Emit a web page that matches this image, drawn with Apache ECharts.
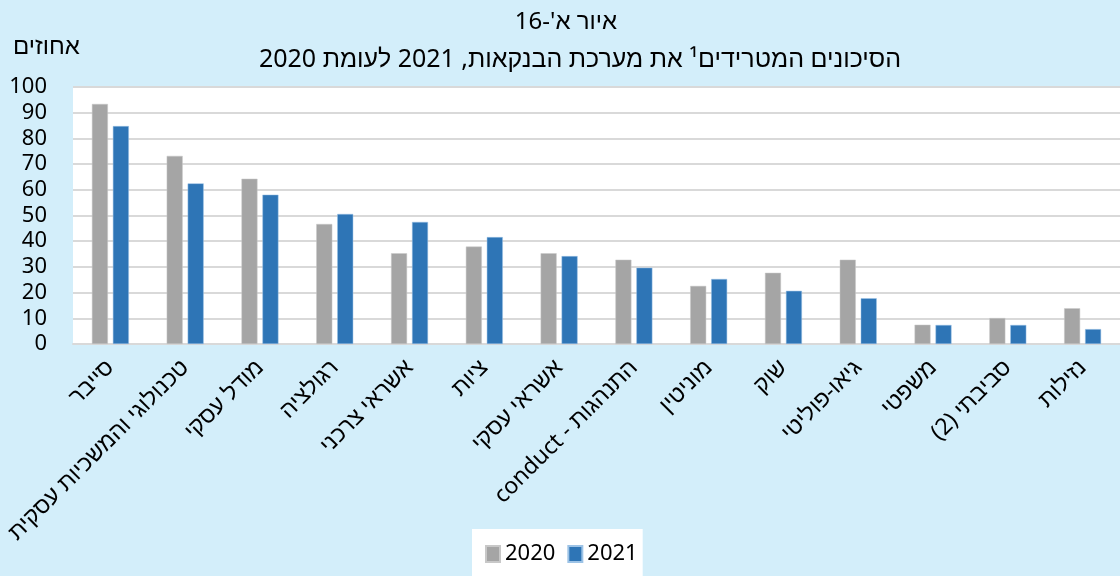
<!DOCTYPE html>
<html>
<head>
<meta charset="utf-8">
<script src="https://cdn.jsdelivr.net/npm/echarts@6/dist/echarts.min.js"></script>
<style>
  html, body { margin: 0; padding: 0; background: #d3eefa; }
  #chart { width: 1120px; height: 576px; }
</style>
</head>
<body>
<div id="chart"></div>
<script>
// categories, left to right as drawn
const categories = [
  "סייבר",
  "טכנולוגי והמשכיות עסקית",
  "מודל עסקי",
  "רגולציה",
  "אשראי צרכני",
  "ציות",
  "אשראי עסקי",
  "conduct - התנהגות",
  "מוניטין",
  "שוק",
  "גיאו-פוליטי",
  "משפטי",
  "\u200Fסביבתי (2)\u200F",
  "נזילות"
];
const values2020 = [93.4, 73.2, 64.3, 46.7, 35.3, 37.9, 35.3, 32.8, 22.6, 27.7, 32.8, 7.5, 10.1, 13.9];
const values2021 = [84.8, 62.5, 58.1, 50.6, 47.5, 41.6, 34.2, 29.7, 25.3, 20.7, 17.8, 7.4, 7.4, 5.8];
const yTicks = { min: 0, max: 100, interval: 10 };

const FONT = "'Noto Sans', 'Liberation Sans', sans-serif";

const chart = echarts.init(document.getElementById("chart"));

const options = {
  backgroundColor: "#d3eefa",
  animation: false,
  textStyle: { fontFamily: FONT, color: "#000" },
  title: [
    {
      text: "איור א'-16",
      left: 561,
      top: 5,
      textAlign: "center",
      textStyle: { fontFamily: FONT, fontSize: 24, fontWeight: "normal", color: "#000" }
    },
    {
      text: "הסיכונים המטרידים¹ את מערכת הבנקאות, 2021 לעומת 2020",
      left: 575,
      top: 42,
      textAlign: "center",
      textStyle: { fontFamily: FONT, fontSize: 25, fontWeight: "normal", color: "#000" }
    }
  ],
  graphic: [
    {
      type: "text",
      left: 13,
      top: 35,
      style: { text: "אחוזים", font: "24px " + FONT, fill: "#000" }
    }
  ],
  legend: {
    left: 472,
    top: 529,
    backgroundColor: "#fff",
    padding: [14, 5, 14, 13],
    itemWidth: 14,
    itemHeight: 16,
    itemGap: 12,
    icon: "rect",
    textStyle: { fontFamily: FONT, fontSize: 22, color: "#000" },
    data: ["2020", "2021"]
  },
  grid: {
    left: 73,
    right: 0,
    top: 87,
    bottom: 232,
    show: true,
    backgroundColor: "#fff",
    borderWidth: 0
  },
  xAxis: {
    type: "category",
    data: categories,
    axisTick: { show: false },
    axisLine: { lineStyle: { color: "#d9d9d9", width: 2 } },
    axisLabel: {
      interval: 0,
      rotate: 45,
      margin: 20,
      fontSize: 23,
      color: "#000",
      fontFamily: FONT
    }
  },
  yAxis: {
    type: "value",
    min: yTicks.min,
    max: yTicks.max,
    interval: yTicks.interval,
    axisLine: { show: false },
    axisTick: { show: false },
    splitLine: { lineStyle: { color: "#d9d9d9", width: 2 } },
    axisLabel: { fontSize: 22, color: "#000", margin: 26, fontFamily: FONT }
  },
  series: [
    {
      name: "2020",
      type: "bar",
      data: values2020,
      barWidth: 16,
      barGap: "31%",
      itemStyle: { color: "#a5a5a5", borderColor: "#c8c8c8", borderWidth: 0.5 }
    },
    {
      name: "2021",
      type: "bar",
      data: values2021,
      barWidth: 16,
      itemStyle: { color: "#2e75b6", borderColor: "#9dc3e6", borderWidth: 0.5 }
    }
  ]
};

chart.setOption(options);
</script>
</body>
</html>
